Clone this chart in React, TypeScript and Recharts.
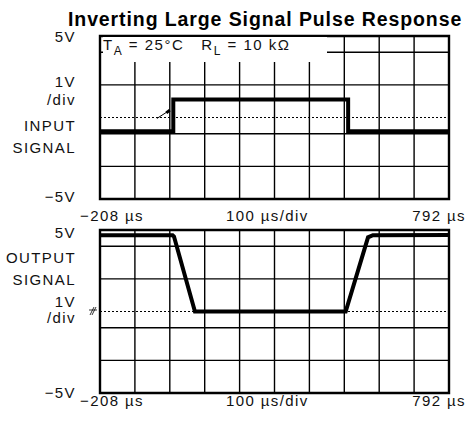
import type { CSSProperties, ReactNode } from "react";
import {
  CartesianGrid,
  Line,
  LineChart,
  ReferenceArea,
  ReferenceLine,
  XAxis,
  YAxis,
} from "recharts";

// scope screen: 10 div x 100 us, 10 div x 1 V
const TIME_MIN = -208;
const TIME_MAX = 792;
const timeGrid = [-108, -8, 92, 192, 292, 392, 492, 592, 692];
const voltGrid = [-4, -3, -2, -1, 1, 2, 3, 4];

const inputTime = [-208, 2, 2, 503, 503, 792];
const inputVolts = [-0.85, -0.85, 1.1, 1.1, -0.85, -0.85];

const outputTime = [-208, 0, 4, 64, 496, 560, 574, 792];
const outputVolts = [4.68, 4.68, 4.6, 0, 0, 4.55, 4.68, 4.7];

const timeLabels = ["\u2212208 \u00b5s", "100 \u00b5s/div", "792 \u00b5s"];

const FONT = '"Liberation Sans", Arial, sans-serif';

function zip(ts: number[], vs: number[]) {
  return ts.map((t, i) => ({ t, v: vs[i] }));
}

function Panel({
  data,
  top,
  children,
}: {
  data: { t: number; v: number }[];
  top: number;
  children?: ReactNode;
}) {
  return (
    <div style={{ position: "absolute", left: 0, top }}>
      <LineChart
        width={466}
        height={180}
        data={data}
        margin={{ top: 6, right: 17, bottom: 11, left: 100 }}
      >
        <XAxis
          type="number"
          dataKey="t"
          domain={[TIME_MIN, TIME_MAX]}
          ticks={timeGrid}
          hide
        />
        <YAxis type="number" domain={[-5, 5]} ticks={voltGrid} hide />
        <CartesianGrid stroke="#000" strokeWidth={1.4} />
        <ReferenceLine y={0} stroke="#000" strokeWidth={1} strokeDasharray="2 2" />
        {children}
        <Line
          type="linear"
          dataKey="v"
          stroke="#000"
          strokeWidth={4}
          dot={false}
          isAnimationActive={false}
        />
        <ReferenceArea
          x1={TIME_MIN}
          x2={TIME_MAX}
          y1={-5}
          y2={5}
          fill="none"
          stroke="#000"
          strokeWidth={2.4}
        />
      </LineChart>
    </div>
  );
}

const label: CSSProperties = {
  position: "absolute",
  fontFamily: FONT,
  fontSize: 15,
  letterSpacing: 1.4,
  lineHeight: "15px",
  whiteSpace: "nowrap",
  color: "#111",
};

function Left({ y, children }: { y: number; children: ReactNode }) {
  return (
    <div style={{ ...label, right: 466 - 76, top: y - 8, textAlign: "right" }}>
      {children}
    </div>
  );
}

function TimeRow({ y }: { y: number }) {
  return (
    <>
      <div style={{ ...label, left: 80, top: y - 8 }}>{timeLabels[0]}</div>
      <div style={{ ...label, left: 226, top: y - 8 }}>{timeLabels[1]}</div>
      <div style={{ ...label, right: 0, top: y - 8 }}>{timeLabels[2]}</div>
    </>
  );
}

export default function App() {
  return (
    <div
      style={{
        position: "absolute",
        left: 0,
        top: 0,
        width: 466,
        height: 421,
        background: "#fff",
        overflow: "hidden",
      }}
    >
      <div
        style={{
          position: "absolute",
          left: 68,
          top: 9,
          fontFamily: FONT,
          fontWeight: 700,
          fontSize: 19.5,
          letterSpacing: 0.9,
          whiteSpace: "nowrap",
          lineHeight: "20px",
        }}
      >
        Inverting Large Signal Pulse Response
      </div>

      <Panel data={zip(inputTime, inputVolts)} top={30}>
        <ReferenceLine
          segment={[
            { x: -45, y: -0.06 },
            { x: -8, y: 0.45 },
          ]}
          stroke="#000"
          strokeWidth={1}
        />
        <ReferenceLine
          segment={[
            { x: -18, y: 0.28 },
            { x: -8, y: 0.45 },
          ]}
          stroke="#000"
          strokeWidth={3}
        />
      </Panel>
      <Panel data={zip(outputTime, outputVolts)} top={224} />

      {/* conditions box in the top row of the input screen */}
      <div
        style={{
          ...label,
          left: 103,
          top: 37,
          width: 224,
          height: 25,
          background: "#fff",
          letterSpacing: 1.5,
        }}
      >
        T<sub style={{ fontSize: 12, verticalAlign: -5 }}>A</sub> = 25°C&nbsp;&nbsp;&nbsp;R
        <sub style={{ fontSize: 12, verticalAlign: -5 }}>L</sub> = 10 kΩ
      </div>

      <Left y={37}>5V</Left>
      <Left y={82}>1V</Left>
      <Left y={100}>/div</Left>
      <Left y={126}>INPUT</Left>
      <Left y={148}>SIGNAL</Left>
      <Left y={197}>−5V</Left>

      <TimeRow y={216} />

      <Left y={233}>5V</Left>
      <Left y={258}>OUTPUT</Left>
      <Left y={280}>SIGNAL</Left>
      <Left y={302}>1V</Left>
      <Left y={318}>/div</Left>
      <Left y={393}>−5V</Left>

      <TimeRow y={401} />

      {/* ground marker */}
      <svg
        style={{ position: "absolute", left: 88, top: 306 }}
        width={10}
        height={10}
      >
        <line x1={2} y1={9} x2={6} y2={1} stroke="#000" strokeWidth={0.8} />
        <line x1={4} y1={9} x2={8} y2={1} stroke="#000" strokeWidth={0.8} />
        <line x1={1} y1={4} x2={9} y2={4} stroke="#000" strokeWidth={0.8} />
      </svg>
    </div>
  );
}
